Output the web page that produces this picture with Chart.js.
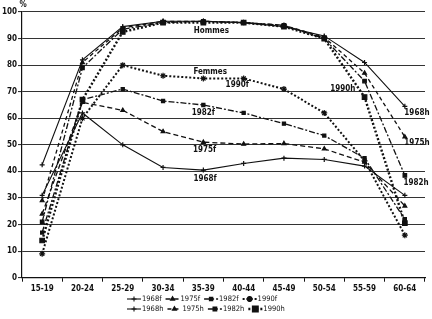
<!DOCTYPE html>
<html><head><meta charset="utf-8">
<script src="https://cdn.jsdelivr.net/npm/chart.js@4/dist/chart.umd.min.js"></script>
<style>html,body{margin:0;padding:0;background:#fff}#wrap{width:432px;height:319px;position:relative}</style>
</head><body><div id="wrap"><canvas id="c" width="432" height="319"></canvas></div>
<script>
const categories = ['15-19','20-24','25-29','30-34','35-39','40-44','45-49','50-54','55-59','60-64'];
const seriesLabels = ['1968f','1975f','1982f','1990f','1968h','1975h','1982h','1990h'];
const f1968 = [31, 62, 50, 41.5, 40.5, 43, 45, 44.5, 42, 31];
const f1975 = [24, 66, 63, 55, 51, 50.3, 50.5, 48.5, 43.5, 27];
const f1982 = [17, 67, 71, 66.5, 65, 62, 58, 53.5, 45, 22];
const f1990 = [9, 60, 80, 76, 75, 75, 71, 62, 44, 16];
const h1968 = [42.5, 82, 94.5, 96.5, 96.5, 96, 94.5, 91, 81, 64.5];
const h1975 = [29, 81, 94, 96.5, 96.5, 96, 95, 90.5, 77, 53];
const h1982 = [21, 79, 93.5, 96, 96.5, 96, 95, 90, 74, 38.5];
const h1990 = [14, 67, 92.5, 96, 96, 96, 94.5, 90, 68, 20.5];
const yTickValues = [0,10,20,30,40,50,60,70,80,90,100];
const unitLabel = '%';
const noteTexts = ['Hommes','Femmes','1990f','1982f','1975f','1968f','1990h','1968h','1975h','1982h'];

const FONT = "'Liberation Sans Narrow', 'DejaVu Sans Condensed', 'Liberation Sans', sans-serif";
const INK = '#111';

const styles = [
  {borderDash: [], borderWidth: 1.1, pointStyle: 'cross', pointRadius: 2.5},
  {borderDash: [5,3], borderWidth: 1.3, pointStyle: 'triangle', pointRadius: 2.2},
  {borderDash: [6,2,2,2], borderWidth: 1.3, pointStyle: 'rect', pointRadius: 2.2},
  {borderDash: [2,2], borderWidth: 2, pointStyle: 'star', pointRadius: 3},
  {borderDash: [], borderWidth: 1.1, pointStyle: 'cross', pointRadius: 2.5},
  {borderDash: [4,3], borderWidth: 1.3, pointStyle: 'triangle', pointRadius: 2.2},
  {borderDash: [6,2,2,2], borderWidth: 1.3, pointStyle: 'rect', pointRadius: 2.5},
  {borderDash: [2,2], borderWidth: 2.4, pointStyle: 'rect', pointRadius: 3.2}
];
const seriesData = [f1968, f1975, f1982, f1990, h1968, h1975, h1982, h1990];

const datasets = seriesData.map((d, k) => Object.assign({
  label: seriesLabels[k], data: d, borderColor: INK, backgroundColor: INK,
  pointBorderColor: INK, pointBackgroundColor: INK, pointBorderWidth: 1.2,
  tension: 0, fill: false
}, styles[k]));

// annotation anchors: category index (fractional) & value
const noteAnchors = [[4.2,92.8],[4.17,77.4],[4.84,72.5],[4.0,62],[4.03,48],[4.04,37],[7.46,71],[9.3,62],[9.3,50.7],[9.28,35.6]];
const legendRows = [{x: 127, y: 299, items: [0,1,2,3]}, {x: 127, y: 309, items: [4,5,6,7]}];
const legendSample = 14;

const overlay = {
  id: 'overlay',
  afterDraw(chart) {
    const ctx = chart.ctx, xs = chart.scales.x, ys = chart.scales.y;
    ctx.save();
    ctx.fillStyle = INK;
    ctx.font = 'bold 8px ' + FONT;
    ctx.textAlign = 'center'; ctx.textBaseline = 'middle';
    noteTexts.forEach((t, i) => {
      const [ix, v] = noteAnchors[i];
      ctx.fillText(t, xs.getPixelForValue(ix), ys.getPixelForValue(v));
    });
    ctx.fillText(unitLabel, 23, 5);
    // legend
    ctx.textAlign = 'left';
    const dss = chart.data.datasets;
    legendRows.forEach(row => {
      let x = row.x; const y = row.y;
      row.items.forEach(k => {
        const ds = dss[k], L = legendSample;
        ctx.save();
        ctx.strokeStyle = INK; ctx.lineWidth = ds.borderWidth;
        ctx.setLineDash(ds.borderDash);
        ctx.beginPath(); ctx.moveTo(x, y); ctx.lineTo(x + L, y); ctx.stroke();
        ctx.setLineDash([]);
        Chart.helpers.drawPoint(ctx, {pointStyle: ds.pointStyle, radius: ds.pointRadius, borderWidth: 1.2, rotation: 0}, x + L/2, y);
        ctx.restore();
        ctx.fillStyle = INK;
        ctx.font = '7.5px ' + FONT;
        ctx.fillText(ds.label, x + L + 1, y);
        x += L + 1 + ctx.measureText(ds.label).width + 4;
      });
    });
    ctx.restore();
  }
};

new Chart(document.getElementById('c'), {
  type: 'line',
  data: {labels: categories, datasets},
  options: {
    responsive: false, animation: false, devicePixelRatio: 1,
    layout: {padding: {top: 12, right: 7, left: 0, bottom: 0}},
    plugins: {legend: {display: false}, tooltip: {enabled: false}},
    scales: {
      x: {
        offset: true,
        grid: {display: true, drawOnChartArea: false, drawTicks: true, tickLength: 4, color: INK, offset: true},
        border: {display: true, color: INK, width: 1.2},
        ticks: {color: INK, font: {family: FONT, size: 8, weight: 'bold'}, padding: 2, maxRotation: 0, autoSkip: false},
        afterFit(s) { s.height = 41.3; }
      },
      y: {
        min: 0, max: 100,
        afterBuildTicks(s) { s.ticks = yTickValues.map(v => ({value: v})); },
        grid: {color: '#333', lineWidth: 1.1, tickLength: 4},
        border: {display: true, color: INK, width: 1.2},
        ticks: {color: INK, font: {family: FONT, size: 8, weight: 'bold'}, padding: 1},
        afterFit(s) { s.width = 22; }
      }
    }
  },
  plugins: [overlay]
});
</script></body></html>
